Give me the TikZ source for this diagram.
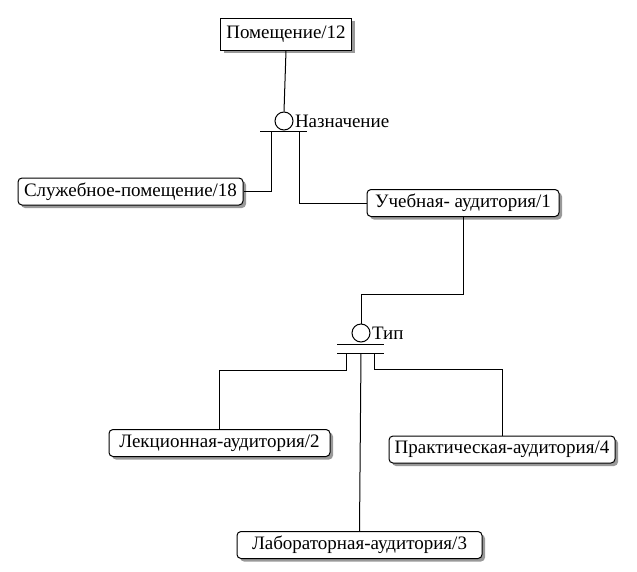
\documentclass[tikz,border=0pt]{standalone}
\usepackage{fontspec}
\setmainfont{Liberation Serif}
\usetikzlibrary{shadows}
\begin{document}
\begin{tikzpicture}[x=1pt,y=-1pt, line width=1pt,
    ent/.style={draw, fill=white, rounded corners=4pt, inner xsep=3pt, minimum height=27pt,
        font=\fontsize{19}{21}\selectfont,
        drop shadow={shadow xshift=3pt, shadow yshift=-3pt, fill=gray!80, opacity=1}},
    cat/.style={draw, circle, minimum size=18pt, inner sep=0pt},
    lbl/.style={right, inner sep=1pt, font=\fontsize{19}{21}\selectfont}]
    \useasboundingbox (0,0) rectangle (637,571);
    % entities
    \node[ent, rounded corners=0pt, minimum height=32pt, minimum width=131pt] (pom) at (286,34) {Помещение/12};
    \node[ent, minimum width=225pt] (sluzh) at (130.5,191.5) {Служебное-помещение/18};
    \node[ent, minimum width=192pt] (ucheb) at (463,203) {Учебная- аудитория/1};
    \node[ent, minimum width=221pt] (lekc) at (219.5,443) {Лекционная-аудитория/2};
    \node[ent, minimum width=226pt] (prakt) at (502,449.5) {Практическая-аудитория/4};
    \node[ent, minimum width=245pt] (labor) at (359.5,545) {Лабораторная-аудитория/3};
    % category Назначение
    \node[cat] (naz) at (284,121) {};
    \node[lbl] at (naz.east) {Назначение};
    \draw (pom.south) -- (naz.north);
    \draw (260,131) -- (307,131);
    \draw (271,131) |- (sluzh.east);
    \draw (299,131) |- (ucheb.west);
    % category Тип
    \node[cat] (tip) at (361,333) {};
    \node[lbl] at (tip.east) {Тип};
    \draw (ucheb.south) |- (361,294) -- (tip.north);
    \draw (337,344) -- (384,344);
    \draw (337,353) -- (384,353);
    \draw (346,353) -- (346,370) -| (lekc.north);
    \draw (361,353) -- (labor.north);
    \draw (374,353) -- (374,369) -| (prakt.north);
\end{tikzpicture}
\end{document}
